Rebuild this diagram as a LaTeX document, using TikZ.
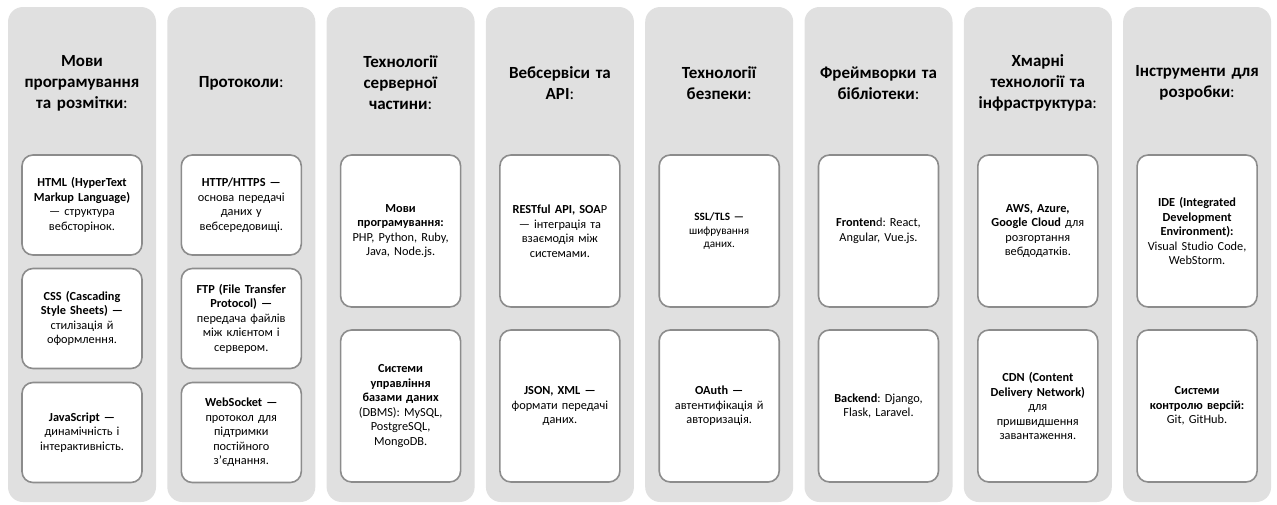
\documentclass[tikz,border=0pt]{standalone}
\usepackage{fontspec}
\setmainfont{Carlito}
\frenchspacing
\begin{document}
\begin{tikzpicture}[x=1pt,y=-1pt,
  panel/.style={fill=black!12, draw=none, rounded corners=15pt, minimum width=148pt, minimum height=495pt, inner sep=0pt},
  ttl/.style={font=\fontsize{17}{21}\selectfont\frenchspacing, align=center, text width=140pt, inner sep=0pt},
  card/.style={fill=white, draw=black!45, line width=1.6pt, rounded corners=11pt, minimum width=120pt, text width=114pt, align=center, inner sep=0pt, font=\fontsize{12.3}{14.5}\selectfont\frenchspacing},
  cardA/.style={card, minimum height=100pt},
  cardB/.style={card, minimum height=152pt}]
\useasboundingbox (0,0) rectangle (1277,504);
\fill[white] (0,0) rectangle (1277,504);
% panels
\foreach \i in {0,...,7}{
  \node[panel] (p\i) at ({82+\i*159.3},254.5) {};
}
% titles
\node[ttl] (t0) at (82,83) {\textbf{Мови}\\ \textbf{програмування}\\ \textbf{та розмітки}:};
\node[ttl] (t1) at (241.3,83) {\textbf{Протоколи}:};
\node[ttl] (t2) at (400.6,83) {\textbf{Технології}\\ \textbf{серверної}\\ \textbf{частини}:};
\node[ttl] (t3) at (559.9,83) {\textbf{Вебсервіси та}\\ \textbf{API}:};
\node[ttl] (t4) at (719.2,83) {\textbf{Технології}\\ \textbf{безпеки}:};
\node[ttl] (t5) at (878.5,83) {\textbf{Фреймворки та}\\ \textbf{бібліотеки}:};
\node[ttl] (t6) at (1037.8,83) {\textbf{Хмарні}\\ \textbf{технології та}\\ \textbf{інфраструктура}:};
\node[ttl] (t7) at (1197.1,83) {\textbf{Інструменти для}\\ \textbf{розробки}:};
% column 1
\node[cardA] (a1) at (82,205) {\textbf{HTML (HyperText}\\ \textbf{Markup Language)}\\ — структура\\ вебсторінок.};
\node[cardA] (a2) at (82,318.5) {\textbf{CSS (Cascading}\\ \textbf{Style Sheets) —}\\ стилізація й\\ оформлення.};
\node[cardA] (a3) at (82,432.5) {\textbf{JavaScript —}\\ динамічність і\\ інтерактивність.};
% column 2
\node[cardA] (b1) at (241.3,205) {\textbf{HTTP/HTTPS —}\\ основа передачі\\ даних у\\ вебсередовищі.};
\node[cardA] (b2) at (241.3,318.5) {\textbf{FTP (File Transfer}\\ \textbf{Protocol) —}\\ передача файлів\\ між клієнтом і\\ сервером.};
\node[cardA] (b3) at (241.3,432.5) {\textbf{WebSocket —}\\ протокол для\\ підтримки\\ постійного\\ з’єднання.};
% column 3
\node[cardB] (c1) at (400.6,231) {\textbf{Мови}\\ \textbf{програмування:}\\ PHP, Python, Ruby,\\ Java, Node.js.};
\node[cardB] (c2) at (400.6,406) {\textbf{Системи}\\ \textbf{управління}\\ \textbf{базами даних}\\ (DBMS): MySQL,\\ PostgreSQL,\\ MongoDB.};
% column 4
\node[cardB] (d1) at (559.9,231) {\textbf{RESTful API, SOA}P\\ — інтеграція та\\ взаємодія між\\ системами.};
\node[cardB] (d2) at (559.9,406) {\textbf{JSON, XML —}\\ формати передачі\\ даних.};
% column 5
\node[cardB, font=\fontsize{11.2}{13.3}\selectfont\frenchspacing] (e1) at (719.2,231) {\textbf{SSL/TLS —}\\ шифрування\\ даних.};
\node[cardB] (e2) at (719.2,406) {\textbf{OAuth —}\\ автентифікація й\\ авторизація.};
% column 6
\node[cardB] (f1) at (878.5,231) {\textbf{Fronten}d: React,\\ Angular, Vue.js.};
\node[cardB] (f2) at (878.5,406) {\textbf{Backend}: Django,\\ Flask, Laravel.};
% column 7
\node[cardB] (g1) at (1037.8,231) {\textbf{AWS, Azure,}\\ \textbf{Google Cloud} для\\ розгортання\\ вебдодатків.};
\node[cardB] (g2) at (1037.8,406) {\textbf{CDN (Content}\\ \textbf{Delivery Network)}\\ для\\ пришвидшення\\ завантаження.};
% column 8
\node[cardB] (h1) at (1197.1,231) {\textbf{IDE (Integrated}\\ \textbf{Development}\\ \textbf{Environment):}\\ Visual Studio Code,\\ WebStorm.};
\node[cardB] (h2) at (1197.1,406) {\textbf{Системи}\\ \textbf{контролю версій:}\\ Git, GitHub.};
\end{tikzpicture}
\end{document}
